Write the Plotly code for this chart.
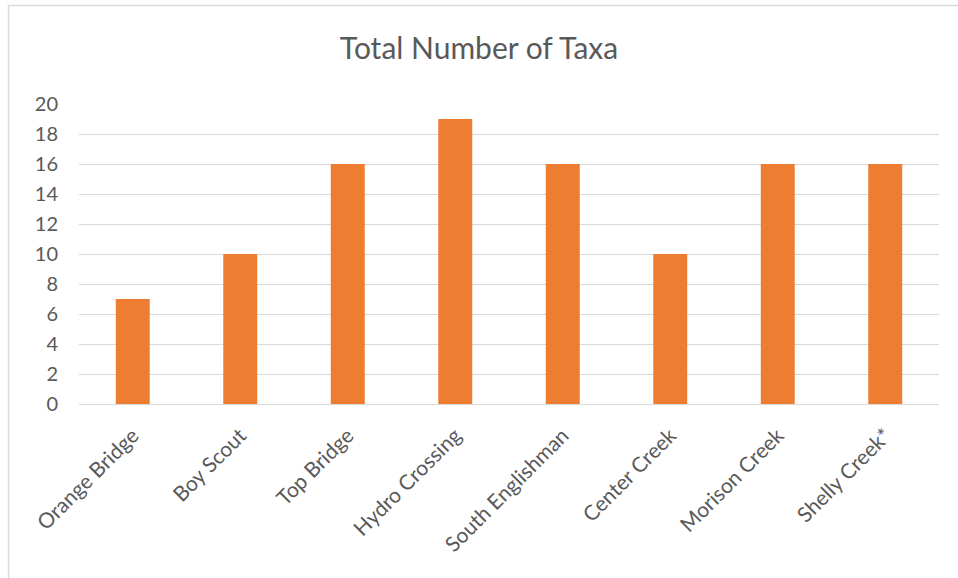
import plotly.graph_objects as go

categories = ["Orange Bridge", "Boy Scout", "Top Bridge", "Hydro Crossing",
              "South Englishman", "Center Creek", "Morison Creek", "Shelly Creek*"]
values = [7, 10, 16, 19, 16, 10, 16, 16]
y_ticks = list(range(0, 21, 2))

W, H = 958, 578
L, R, T, B = 79, 19, 104, 174

fig = go.Figure(go.Bar(x=categories, y=values, marker=dict(color="#ED7D31", line=dict(width=0)),
                       hoverinfo="x+y"))

pw = W - L - R
ph = H - T - B
def px2paperx(px):
    return (px - L) / pw
def py2papery(py):
    return (H - B - py) / ph

fig.update_layout(
    width=W, height=H,
    margin=dict(l=L, r=R, t=T, b=B),
    paper_bgcolor="white", plot_bgcolor="white",
    font=dict(family="Lato, Open Sans, sans-serif", color="#595959", size=20),
    title=dict(text="Total Number of Taxa", x=0.5, xanchor="center", y=1 - 48 / H, yanchor="middle",
               font=dict(size=30, color="#595959")),
    bargap=0.684,
    showlegend=False,
    xaxis=dict(tickangle=-45, showgrid=False, showline=True, linecolor="#d9d9d9", linewidth=1,
               ticks="", ticklabelstandoff=10, tickfont=dict(size=21, color="#595959")),
    yaxis=dict(range=[0, 20], tickvals=y_ticks, showgrid=True, gridcolor="#d9d9d9", gridwidth=1,
               zeroline=False, showline=False, ticks="", ticklabelstandoff=20,
               tickfont=dict(size=20, color="#595959")),
    shapes=[dict(type="rect", xref="paper", yref="paper",
                 x0=px2paperx(8.5), x1=px2paperx(W + 20), y0=py2papery(H + 20), y1=py2papery(5.5),
                 line=dict(color="#d9d9d9", width=1.5), fillcolor="rgba(0,0,0,0)", layer="below")],
)

fig.write_html("out.html", config={"displayModeBar": False},
               post_script="document.body.style.margin='0';document.body.style.overflow='hidden';")
